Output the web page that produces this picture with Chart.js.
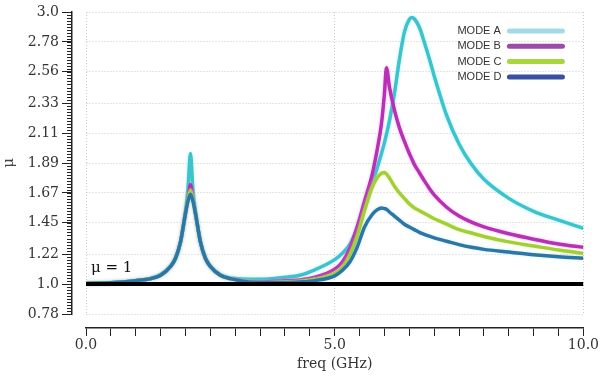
<!DOCTYPE html>
<html>
<head>
<meta charset="utf-8">
<script src="https://cdn.jsdelivr.net/npm/chart.js@4.4.1/dist/chart.umd.min.js"></script>
<style>
  html, body { margin: 0; padding: 0; background: #fff; }
  #wrap { width: 600px; height: 377px; }
</style>
</head>
<body>
<div id="wrap"><canvas id="muChart"></canvas></div>
<script>
// frequency samples (GHz), shared by all modes
const freq = [0, 0.5, 1.0, 1.3, 1.5, 1.7, 1.8, 1.9, 2.0, 2.05,
  2.1, 2.15, 2.2, 2.3, 2.4, 2.5, 2.7, 2.9, 3.5, 4.0,
  4.3, 4.6, 5.0, 5.15, 5.3, 5.45, 5.6, 5.75, 5.85, 5.94,
  6.0, 6.04, 6.1, 6.2, 6.3, 6.4, 6.5, 6.55, 6.6, 6.7,
  6.8, 6.9, 7.0, 7.25, 7.5, 7.75, 8.0, 8.5, 9.0, 9.5,
  10.0];

const modeA = [1.005, 1.01, 1.025, 1.04, 1.07, 1.13, 1.19, 1.31, 1.54, 1.70,
  1.96, 1.69, 1.54, 1.31, 1.19, 1.13, 1.07, 1.045, 1.035, 1.05,
  1.065, 1.105, 1.18, 1.225, 1.29, 1.41, 1.56, 1.73, 1.85, 1.96,
  2.04, 2.10, 2.20, 2.40, 2.65, 2.85, 2.945, 2.96, 2.95, 2.89,
  2.78, 2.66, 2.53, 2.24, 2.03, 1.88, 1.77, 1.63, 1.535, 1.47,
  1.41];

const modeB = [1.005, 1.01, 1.025, 1.04, 1.065, 1.13, 1.19, 1.31, 1.52, 1.63,
  1.73, 1.63, 1.52, 1.31, 1.19, 1.13, 1.065, 1.04, 1.015, 1.025,
  1.03, 1.05, 1.11, 1.16, 1.26, 1.42, 1.61, 1.80, 1.98, 2.18,
  2.40, 2.59, 2.45, 2.28, 2.15, 2.05, 1.96, 1.92, 1.88, 1.82,
  1.76, 1.705, 1.655, 1.565, 1.50, 1.455, 1.42, 1.37, 1.33, 1.295,
  1.27];

const modeC = [1.005, 1.01, 1.025, 1.04, 1.065, 1.13, 1.19, 1.31, 1.52, 1.62,
  1.69, 1.62, 1.52, 1.31, 1.19, 1.13, 1.065, 1.04, 1.01, 1.015,
  1.02, 1.035, 1.08, 1.12, 1.21, 1.35, 1.54, 1.71, 1.78, 1.815,
  1.82, 1.81, 1.78, 1.72, 1.67, 1.63, 1.59, 1.575, 1.56, 1.54,
  1.52, 1.50, 1.48, 1.44, 1.40, 1.375, 1.35, 1.31, 1.28, 1.25,
  1.225];

const modeD = [1.005, 1.01, 1.025, 1.04, 1.065, 1.13, 1.19, 1.31, 1.52, 1.61,
  1.66, 1.61, 1.52, 1.31, 1.19, 1.13, 1.065, 1.04, 1.01, 1.01,
  1.015, 1.025, 1.06, 1.10, 1.16, 1.27, 1.42, 1.51, 1.545, 1.56,
  1.555, 1.55, 1.53, 1.50, 1.47, 1.44, 1.42, 1.41, 1.40, 1.38,
  1.365, 1.352, 1.34, 1.315, 1.29, 1.27, 1.255, 1.235, 1.215, 1.20,
  1.19];

const modeNames = ['MODE A', 'MODE B', 'MODE C', 'MODE D'];
const lineColors = ['#3cc3cd', '#b92fb6', '#a2d034', '#2a76a6'];
const glowColors = ['rgba(130,240,250,0.6)', 'rgba(240,130,240,0.5)', 'rgba(210,250,140,0.5)', 'rgba(120,200,235,0.35)'];
const legendColors = ['#a4dae6', '#9d4aa8', '#a9d63c', '#3a4ea3'];

const refFreq = [0, 10];
const refMu = [1, 1];

const yTickLabels = ['0.78', '1.0', '1.22', '1.45', '1.67', '1.89', '2.11', '2.33', '2.56', '2.78', '3.0'];
const xLabelTicks = [0, 5, 10];

const toPoints = (xs, ys) => xs.map((x, i) => ({ x: x, y: ys[i] }));
const serif = '"DejaVu Serif", "Liberation Serif", serif';

const decor = {
  id: 'decor',
  beforeDatasetDraw(chart, args) {
    const ctx = chart.ctx;
    ctx.save();
    if (args.index < glowColors.length) {
      ctx.shadowColor = glowColors[args.index];
      ctx.shadowBlur = 3;
    }
  },
  afterDatasetDraw(chart) {
    chart.ctx.restore();
  },
  afterDraw(chart) {
    const { ctx, chartArea: a, scales } = chart;
    const x = scales.x, y = scales.y;
    ctx.save();

    // minor ticks on the mu axis
    ctx.strokeStyle = '#222';
    ctx.lineWidth = 1;
    const n = 100;
    const step = (y.max - y.min) / n;
    for (let i = 0; i <= n; i++) {
      const py = Math.round(y.getPixelForValue(y.min + i * step)) + 0.5;
      ctx.beginPath();
      ctx.moveTo(y.right - 5, py);
      ctx.lineTo(y.right, py);
      ctx.stroke();
    }

    // label for the reference line
    ctx.font = '15px ' + serif;
    ctx.fillStyle = '#111';
    ctx.textBaseline = 'alphabetic';
    ctx.textAlign = 'left';
    ctx.fillText('μ = 1', x.getPixelForValue(0) + 5, y.getPixelForValue(1) - 12);

    // legend, text left of the swatch
    ctx.font = '11px "Liberation Sans", Arial, sans-serif';
    ctx.textBaseline = 'middle';
    ctx.lineCap = 'round';
    ctx.lineWidth = 5;
    modeNames.forEach((name, i) => {
      const ly = a.top + 19 + i * 15.3;
      ctx.fillStyle = '#333';
      ctx.fillText(name, a.right - 126, ly);
      ctx.strokeStyle = legendColors[i];
      ctx.beginPath();
      ctx.moveTo(a.right - 74, ly);
      ctx.lineTo(a.right - 21, ly);
      ctx.stroke();
    });
    ctx.restore();
  }
};

const modeData = [modeA, modeB, modeC, modeD];
const datasets = modeData.map((vals, i) => ({
  label: modeNames[i],
  data: toPoints(freq, vals),
  borderColor: lineColors[i],
  borderWidth: 3.5,
  pointRadius: 0,
  cubicInterpolationMode: 'monotone',
  order: 4 - i
}));
datasets.push({
  label: 'μ = 1',
  data: toPoints(refFreq, refMu),
  borderColor: '#000',
  borderWidth: 4,
  pointRadius: 0,
  order: 0
});

new Chart(document.getElementById('muChart'), {
  type: 'line',
  data: { datasets: datasets },
  plugins: [decor],
  options: {
    responsive: true,
    maintainAspectRatio: false,
    animation: false,
    layout: { padding: { left: 0, right: 14, top: 12, bottom: 0 } },
    plugins: {
      legend: { display: false },
      tooltip: { enabled: false }
    },
    scales: {
      x: {
        type: 'linear',
        position: 'bottom',
        weight: 1,
        min: 0,
        max: 10,
        ticks: {
          stepSize: 0.5,
          autoSkip: false,
          maxRotation: 0,
          padding: 1,
          color: '#333',
          font: { family: serif, size: 14 },
          callback: v => xLabelTicks.includes(v) ? v.toFixed(1) : ''
        },
        grid: {
          color: c => (c.tick && xLabelTicks.includes(c.tick.value)) ? '#cacaca' : 'rgba(0,0,0,0)',
          tickColor: '#222',
          tickLength: 8,
          lineWidth: 1
        },
        border: { color: '#222', width: 1.5, dash: [1, 2] },
        title: {
          display: true,
          text: 'freq (GHz)',
          color: '#333',
          font: { family: serif, size: 14 },
          padding: { top: 2, bottom: 4 }
        },
        afterFit: s => { s.height = 49; }
      },
      xGap: {
        type: 'linear',
        position: 'bottom',
        weight: 0,
        grid: { display: false },
        ticks: { display: false },
        border: { display: false },
        afterFit: s => { s.height = 14; }
      },
      y: {
        type: 'linear',
        position: 'left',
        weight: 1,
        min: 0.78,
        max: 3.0,
        afterBuildTicks: s => {
          s.ticks = yTickLabels.map(t => ({ value: parseFloat(t) }));
        },
        ticks: {
          padding: 3,
          color: '#333',
          font: { family: serif, size: 14 },
          callback: (v, i) => yTickLabels[i]
        },
        grid: {
          color: '#cacaca',
          tickColor: '#222',
          tickLength: 10,
          lineWidth: 1
        },
        border: { color: '#222', width: 1.5, dash: [1, 2] },
        title: {
          display: true,
          text: 'μ',
          color: '#444',
          font: { family: serif, size: 15 },
          padding: { top: 0, bottom: 0 }
        },
        afterFit: s => { s.width = 72; }
      },
      yGap: {
        type: 'linear',
        position: 'left',
        weight: 0,
        grid: { display: false },
        ticks: { display: false },
        border: { display: false },
        afterFit: s => { s.width = 14; }
      }
    }
  }
});
</script>
</body>
</html>
